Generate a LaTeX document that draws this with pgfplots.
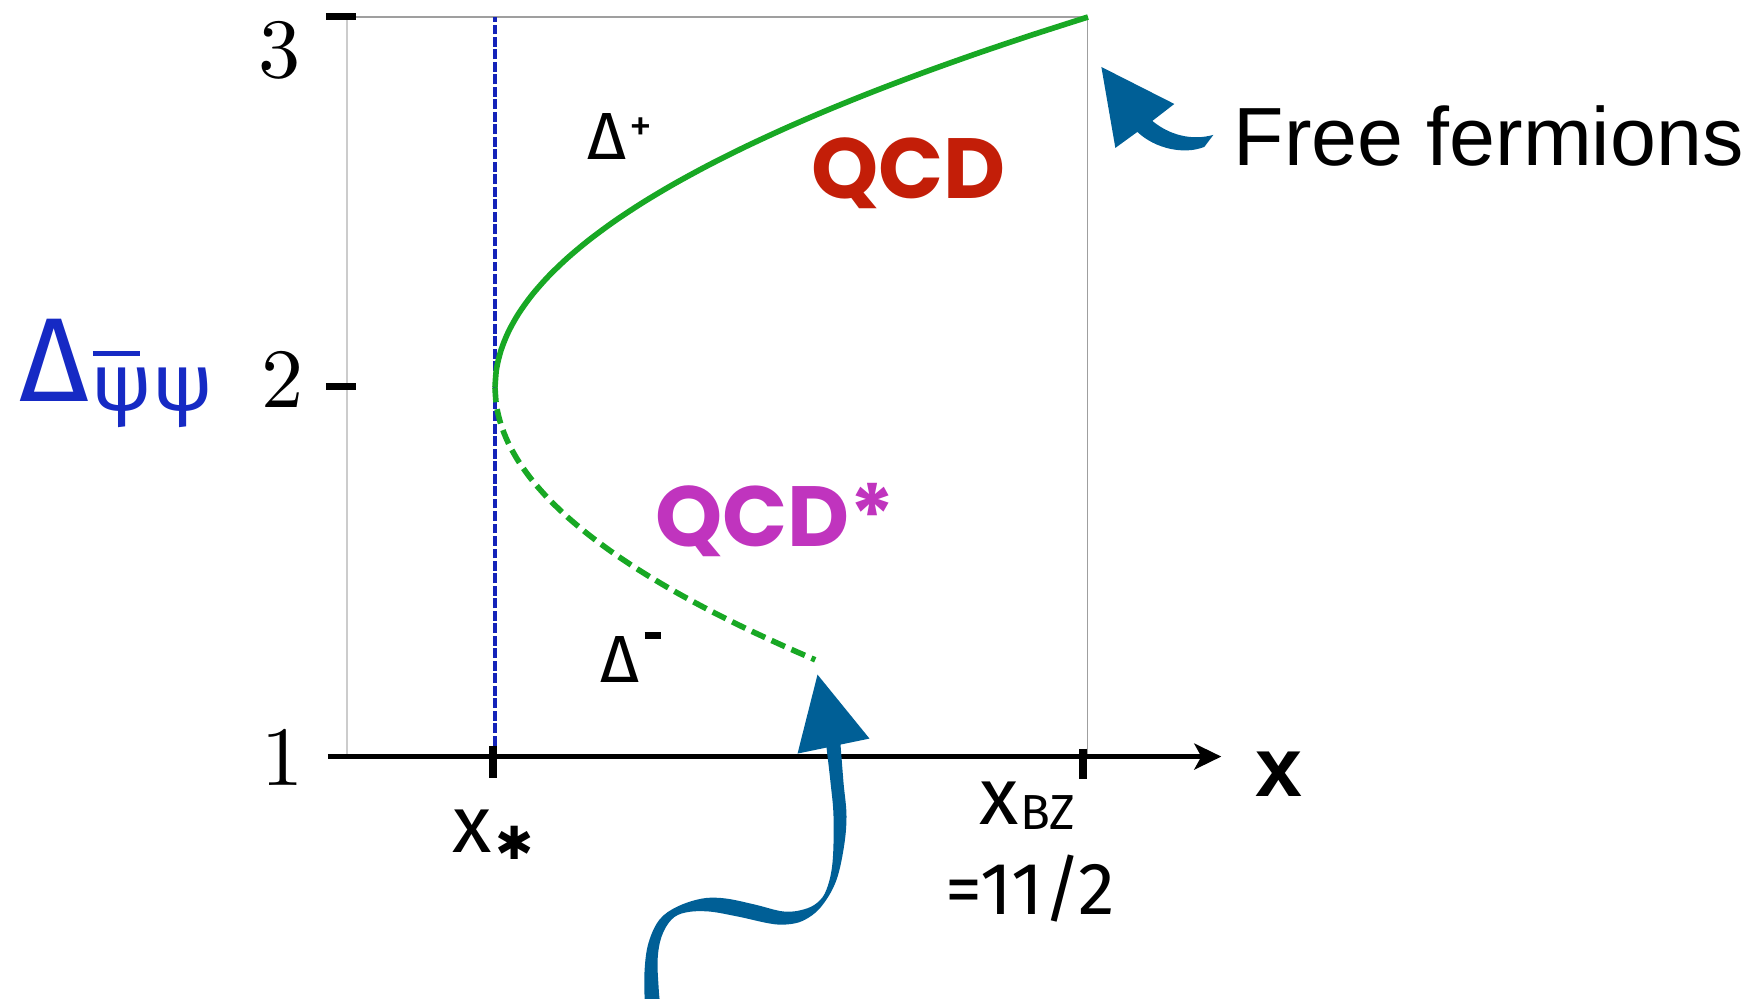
\documentclass[border=0pt]{standalone}
\usepackage{pgfplots}
\pgfplotsset{compat=1.18}
\usetikzlibrary{arrows.meta}
\usepackage{fontspec}
\newfontfamily\gill{Fira Sans}
\newfontfamily\poppins{Poppins}
\newfontfamily\helv{Liberation Sans}
\newfontfamily\djv{DejaVu Sans}
\newfontfamily\lmten{lmroman10-regular}[Extension=.otf]
\definecolor{qgreen}{RGB}{24,168,36}
\definecolor{xblue}{RGB}{20,35,185}
\definecolor{dblue}{RGB}{22,42,196}
\definecolor{qred}{RGB}{195,30,8}
\definecolor{qmag}{RGB}{192,52,190}
\definecolor{ablue}{RGB}{0,95,150}
% annotation layer: 1 unit = 0.1 mm, y pointing down, origin at the top-left corner
\tikzset{px/.style={x=0.01cm, y=-0.01cm, shift={(-3.47cm,7.58cm)}}}
\begin{document}
\begin{tikzpicture}
\useasboundingbox (-3.47,-2.40) rectangle (14.08,7.58);
% frame of the plotting window
\begin{scope}[px]
  \draw[gray!40, line width=0.5pt] (347,758) -- (347,17);
  \draw[gray!75, line width=0.5pt] (347,17) -- (1088,17) -- (1088,758);
\end{scope}
\begin{axis}[at={(0,0)}, anchor=south west, scale only axis,
  width=7.41cm, height=7.41cm,
  xmin=3.6256, xmax=5.5, ymin=1, ymax=3,
  hide axis, clip=false]
% conformal window edge x_*
\addplot[xblue, line width=1.1pt, dash pattern=on 2.8pt off 0.75pt] coordinates {(4,1) (4,3)};
% Delta^+ branch (QCD)
\addplot[qgreen, line width=1.6pt, smooth] coordinates {
  (4,2) (4.00375,2.05) (4.015,2.1) (4.03375,2.15) (4.06,2.2) (4.09375,2.25)
  (4.135,2.3) (4.18375,2.35) (4.24,2.4) (4.30375,2.45) (4.375,2.5)
  (4.45375,2.55) (4.54,2.6) (4.63375,2.65) (4.735,2.7) (4.84375,2.75)
  (4.96,2.8) (5.08375,2.85) (5.215,2.9) (5.35375,2.95) (5.5,3)};
% Delta^- branch (QCD*)
\addplot[qgreen, line width=1.6pt, dash pattern=on 4.2pt off 2pt, smooth] coordinates {
  (4,2) (4.00375,1.95) (4.015,1.9) (4.03375,1.85) (4.06,1.8) (4.09375,1.75)
  (4.135,1.7) (4.18375,1.65) (4.24,1.6) (4.30375,1.55) (4.375,1.5)
  (4.45375,1.45) (4.54,1.4) (4.63375,1.35) (4.735,1.3) (4.81,1.265)};
\end{axis}
\begin{scope}[px]
  % axes and ticks
  \draw[line width=0.07cm] (326,17) -- (356,17);
  \draw[line width=0.07cm] (326,387) -- (356,387);
  \draw[line width=0.045cm, -{Stealth[length=0.27cm, width=0.26cm, inset=0.07cm]}] (328,757) -- (1222,757);
  \draw[line width=0.08cm] (493,746) -- (493,778);
  \draw[line width=0.08cm] (1084,749) -- (1084,779);
  % tick labels
  \node[anchor=base east, inner sep=0] at (302,78) {\lmten\fontsize{24}{24}\selectfont 3};
  \node[anchor=base east, inner sep=0] at (305,408) {\lmten\fontsize{24}{24}\selectfont 2};
  \node[anchor=base east, inner sep=0] at (305,786) {\lmten\fontsize{24}{24}\selectfont 1};
  % axis labels
  \node[anchor=base west, inner sep=0, text=dblue] at (19,402)
    {\gill\fontsize{34}{34}\selectfont Δ\kern0.5pt\raisebox{-2.6pt}{\fontsize{23}{23}\selectfont\makebox[0pt][l]{\kern0.5pt\raisebox{15.6pt}{\rule{13.5pt}{1.4pt}}}ψψ}};
  \node[anchor=base west, inner sep=0] at (1256,797) {\helv\bfseries\fontsize{24}{24}\selectfont x};
  \node[anchor=base west, inner sep=0] at (452,853)
    {\gill\fontsize{23}{23}\selectfont x\kern1pt\raisebox{-2pt}{\djv\fontsize{13}{13}\selectfont ✱}};
  \node[anchor=base west, inner sep=0] at (979,825)
    {\gill\fontsize{23}{23}\selectfont x\kern0.5pt\raisebox{-1.4pt}{\fontsize{14}{14}\selectfont BZ}};
  \node[anchor=base west, inner sep=0] at (945,915) {\gill\fontsize{21}{21}\selectfont =11/2};
  % branch labels
  \node[anchor=base west, inner sep=0] at (587,160)
    {\gill\fontsize{19}{19}\selectfont Δ\kern1pt\raisebox{5.2pt}{\fontsize{13}{13}\selectfont +}};
  \node[anchor=base west, inner sep=0] at (600,683)
    {\gill\fontsize{19}{19}\selectfont Δ\kern1.5pt\raisebox{12.5pt}{\rule{4.8pt}{2pt}}};
  \node[anchor=base west, inner sep=0, text=qred] at (811,199) {\poppins\bfseries\fontsize{24.3}{24.3}\selectfont QCD};
  \node[anchor=base west, inner sep=0, text=qmag] at (655,547) {\poppins\bfseries\fontsize{24.3}{24.3}\selectfont QCD*};
  \node[anchor=base west, inner sep=0] at (1234,166) {\helv\fontsize{23.5}{23.5}\selectfont Free fermions};
  % arrow towards the free-fermion point
  \fill[ablue] (1102,67) -- (1175,104) -- (1153,121)
    .. controls (1170,135) and (1192,141) .. (1214,135) -- (1205,147)
    .. controls (1185,155) and (1156,149) .. (1138,132) -- (1116,148) -- cycle;
  % wavy arrow towards the end of the Delta^- branch
  \fill[ablue] (818,675) -- (870,739) --
    plot[smooth, tension=0.6] coordinates {(841,745) (844,783) (847,817) (844,850) (836,883)
      (821,908) (804,921) (787,925) (770,924) (738,917) (709,912) (686,913) (672,920)
      (662,937) (658,960) (659,988) (660,1000)}
    -- plot[smooth, tension=0.6] coordinates {(645,1000) (645,970) (649,943) (660,920)
      (678,907) (703,899) (726,899) (755,905) (784,912) (804,910) (818,903) (827,890)
      (833,863) (834,817) (831,783) (827,748)}
    -- (798,754) -- cycle;
\end{scope}
\end{tikzpicture}
\end{document}
